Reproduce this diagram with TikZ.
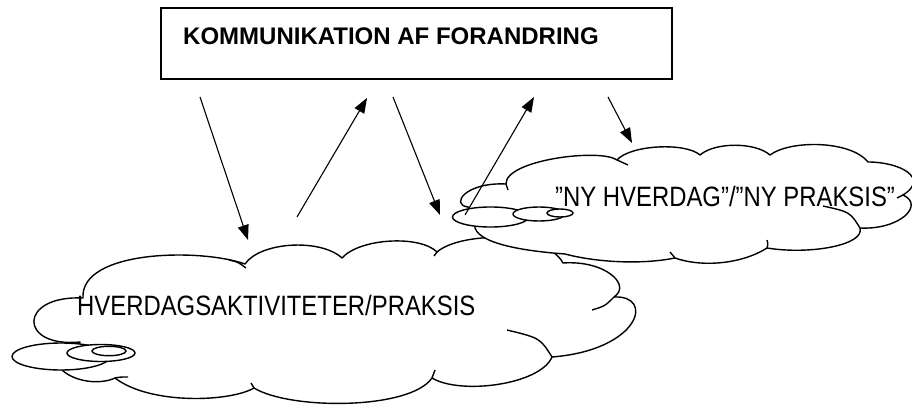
\documentclass[tikz,border=0pt]{standalone}
\usepackage{fontspec}
\setmainfont{Liberation Sans}
\newfontfamily\skyfont{Liberation Sans}[FakeStretch=0.853]
\usetikzlibrary{arrows.meta}

\begin{document}
\begin{tikzpicture}[x=1pt, y=1pt, >={Triangle[length=15pt, width=11pt]},
		sky/.style={draw, line width=1.4pt, fill=white, line join=round},
		hook/.style={line width=1.4pt},
		bubble/.style={draw, line width=1.4pt, fill=white},
		pil/.style={->, line width=1.1pt},
		skytext/.style={anchor=base west, inner sep=0pt, font=\skyfont\fontsize{28}{30}\selectfont}]
		\useasboundingbox (0,0) rectangle (912,410);

		\node[draw, rectangle, line width=1.4pt, minimum width=511pt, minimum height=71pt, inner sep=0pt] (forandring) at (416.5,366.5) {};
		\node[anchor=base west, inner sep=0pt, font=\fontsize{24}{28}\selectfont\bfseries] (titel) at (183,365) {KOMMUNIKATION AF FORANDRING};

		% hverdagen
		\draw[sky] (83,112) .. controls (80,160) and (200,162) .. (245,146)
			.. controls (260,168) and (320,172) .. (342,152)
			.. controls (360,172) and (420,175) .. (437,158)
			.. controls (460,178) and (545,180) .. (563,147)
			.. controls (605,150) and (632,125) .. (614,113)
			.. controls (655,115) and (640,60) .. (552,53)
			.. controls (540,25) and (460,15) .. (432,32)
			.. controls (410,0) and (290,0) .. (254,22)
			.. controls (230,8) and (150,5) .. (115,32)
			.. controls (100,25) and (75,28) .. (62,40)
			-- (80,68)
			.. controls (18,62) and (18,115) .. (83,112) -- cycle;
		\draw[hook] (229,150) .. controls (238,148) .. (246,142);
		\draw[hook] (437,158) .. controls (436,156) .. (434,154);
		\draw[hook] (614,113) .. controls (605,104) .. (592,100);
		\draw[hook] (552,53) .. controls (540,72) .. (507,80);
		\draw[hook] (432,32) .. controls (433,36) .. (435,40);
		\draw[hook] (254,22) .. controls (253,24) .. (251,27);
		\draw[hook] (115,32) .. controls (120,33) .. (128,33);
		\draw[bubble] (61,53.5) ellipse [x radius=49, y radius=13.5];
		\draw[bubble] (101,57) ellipse [x radius=34, y radius=8.5];
		\draw[bubble] (109,59) ellipse [x radius=17, y radius=4.7];

		% ny hverdag
		\draw[sky] (468,203) .. controls (450,205) and (465,228) .. (506,226)
			.. controls (505,250) and (600,262) .. (617,250)
			.. controls (630,265) and (685,268) .. (700,255)
			.. controls (715,268) and (755,268) .. (770,255)
			.. controls (790,270) and (850,270) .. (868,248)
			.. controls (900,248) and (930,232) .. (903,215)
			.. controls (925,205) and (900,180) .. (860,182)
			.. controls (865,165) and (810,155) .. (767,162)
			.. controls (740,145) and (700,143) .. (675,152)
			.. controls (640,145) and (595,148) .. (565,156)
			.. controls (510,160) and (470,170) .. (475,188)
			-- cycle;
		\draw[hook] (506,226) .. controls (507,223) .. (508,220);
		\draw[hook] (617,250) .. controls (622,248) .. (628,245);
		\draw[hook] (903,215) .. controls (900,213) .. (897,212);
		\draw[hook] (860,182) .. controls (850,198) .. (823,204);
		\draw[hook] (767,162) .. controls (768,166) .. (767,170);
		\draw[hook] (675,152) .. controls (672,155) .. (670,158);
		\draw[bubble] (490.5,193) ellipse [x radius=38, y radius=10];
		\draw[bubble] (539,196) ellipse [x radius=26, y radius=7];
		\draw[bubble] (560,197) ellipse [x radius=13, y radius=4];

		\node[skytext] (hverdag) at (77,95) {HVERDAGSAKTIVITETER/PRAKSIS};
		\node[skytext] (nyhverdag) at (555,203) {”NY HVERDAG”/”NY PRAKSIS”};

		\coordinate (ned1) at (200,313);
		\coordinate (ind1) at (248,170);
		\coordinate (op1) at (297,193);
		\coordinate (top1) at (367,312);
		\coordinate (ned2) at (393,313);
		\coordinate (ind2) at (440,195);
		\coordinate (op2) at (465,195);
		\coordinate (top2) at (534,313);
		\coordinate (ned3) at (608,313);
		\coordinate (ind3) at (632,267);

		\draw[pil] (ned1) -- (ind1);
		\draw[pil] (op1) -- (top1);
		\draw[pil] (ned2) -- (ind2);
		\draw[pil] (op2) -- (top2);
		\draw[pil] (ned3) -- (ind3);
	\end{tikzpicture}
\end{document}
